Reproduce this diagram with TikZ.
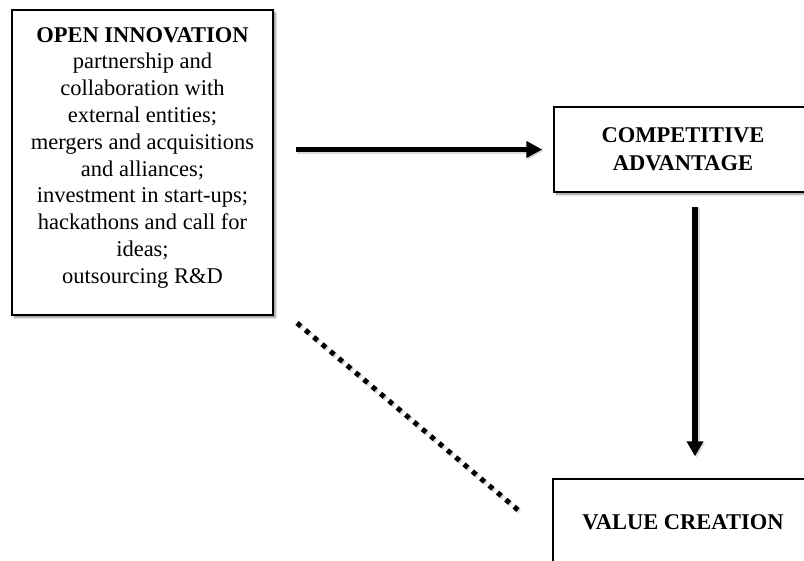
\documentclass[tikz,border=0pt]{standalone}
\usepackage{fontspec}
\setmainfont{Liberation Serif}
\usetikzlibrary{arrows.meta,shadows.blur}
\begin{document}
\begin{tikzpicture}[x=1pt,y=-1pt,
  boxstyle/.style={draw=black,line width=1.4pt,fill=white,inner sep=0pt,
    blur shadow={shadow xshift=2.5pt,shadow yshift=-2.5pt,shadow blur steps=6,shadow opacity=45}},
  txt/.style={align=center,inner sep=0pt,font=\fontsize{22.5}{26.8}\selectfont},
  btxt/.style={align=center,inner sep=0pt,font=\fontsize{22.5}{28}\selectfont\bfseries},
  harrow/.style={line width=5.5pt,-{Triangle[length=16pt,width=16pt]}},
  varrow/.style={line width=6pt,-{Triangle[length=15pt,width=16pt]}},
  dotline/.style={line width=5pt,dash pattern=on 5pt off 5.94pt}
]
\useasboundingbox (0,0) rectangle (804,561);
\clip (0,0) rectangle (804,561);
% boxes
\node[boxstyle,minimum width=261pt,minimum height=305pt] (oi) at (142.5,162.5) {};
\node[boxstyle,minimum width=258pt,minimum height=85pt] (ca) at (683,149.5) {};
\node[boxstyle,minimum width=260pt,minimum height=87pt] (vc) at (683,522.5) {};
% texts
\node[txt,anchor=north] (oit) at (142.5,27) {\textbf{OPEN INNOVATION}\\partnership and\\collaboration with\\external entities;\\mergers and acquisitions\\and alliances;\\investment in start-ups;\\hackathons and call for\\ideas;\\outsourcing R\&D};
\node[btxt] (cat) at (ca.center) {COMPETITIVE\\ADVANTAGE};
\node[btxt] (vct) at (vc.center) {VALUE CREATION};
% connectors
\draw[harrow,black!25,opacity=0.6,transform canvas={xshift=1.5pt,yshift=-1.5pt},shorten <=22pt,shorten >=11pt] (oi.east |- ca.west) -- (ca.west);
\draw[harrow,shorten <=22pt,shorten >=11pt] (oi.east |- ca.west) -- (ca.west);
\draw[varrow,black!25,opacity=0.6,transform canvas={xshift=1.5pt,yshift=-1.5pt},shorten <=14pt,shorten >=22pt] ([xshift=12pt]ca.south) -- ([xshift=12pt]vc.north);
\draw[varrow,shorten <=14pt,shorten >=22pt] ([xshift=12pt]ca.south) -- ([xshift=12pt]vc.north);
\coordinate (d1) at (297,323);
\coordinate (d2) at (518,510);
\draw[dotline,black!25,opacity=0.6,transform canvas={xshift=1.5pt,yshift=-1.5pt}] (d1) -- (d2);
\draw[dotline] (d1) -- (d2);
\end{tikzpicture}
\end{document}
